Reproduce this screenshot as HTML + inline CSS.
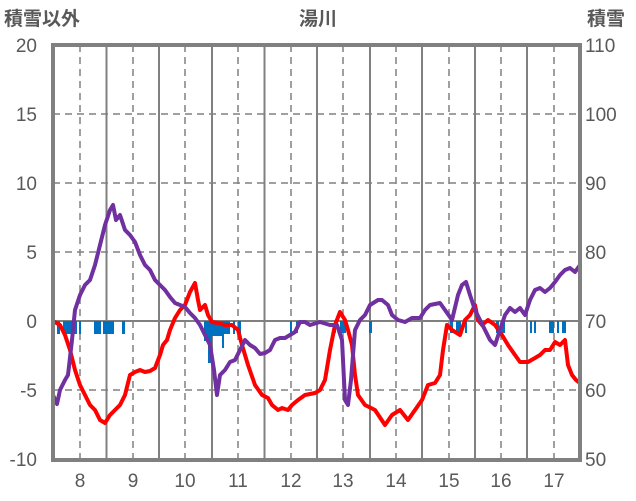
<!DOCTYPE html><html><head><meta charset="utf-8"><style>body{margin:0;background:#fff}svg{display:block}text{font-family:"Liberation Sans","Noto Sans CJK JP",sans-serif;fill:#595959;font-size:19px}</style></head><body>
<svg width="636" height="501" viewBox="0 0 636 501">
<g stroke="#808080" stroke-width="1.5" stroke-dasharray="7,5">
<line x1="53" x2="580" y1="114" y2="114"/><line x1="53" x2="580" y1="183" y2="183"/><line x1="53" x2="580" y1="252" y2="252"/><line x1="53" x2="580" y1="390" y2="390"/>
<line x1="80" x2="80" y1="45" y2="460"/><line x1="133" x2="133" y1="45" y2="460"/><line x1="185" x2="185" y1="45" y2="460"/><line x1="238" x2="238" y1="45" y2="460"/><line x1="291" x2="291" y1="45" y2="460"/><line x1="343" x2="343" y1="45" y2="460"/><line x1="396" x2="396" y1="45" y2="460"/><line x1="449" x2="449" y1="45" y2="460"/><line x1="501" x2="501" y1="45" y2="460"/><line x1="554" x2="554" y1="45" y2="460"/>
</g>
<g stroke="#808080" stroke-width="2">
<line x1="106.5" x2="106.5" y1="45" y2="460"/><line x1="159" x2="159" y1="45" y2="460"/><line x1="212" x2="212" y1="45" y2="460"/><line x1="264.5" x2="264.5" y1="45" y2="460"/><line x1="317" x2="317" y1="45" y2="460"/><line x1="370" x2="370" y1="45" y2="460"/><line x1="422" x2="422" y1="45" y2="460"/><line x1="475" x2="475" y1="45" y2="460"/><line x1="527" x2="527" y1="45" y2="460"/>
<line x1="53" x2="580" y1="321" y2="321"/>
</g>
<g fill="#0070c0">
<rect x="57" y="321" width="3" height="13"/><rect x="63" y="321" width="14" height="13"/><rect x="79" y="321" width="2" height="13"/><rect x="94" y="321" width="7" height="13"/><rect x="103" y="321" width="11" height="13"/><rect x="122" y="321" width="3" height="13"/>
<rect x="204" y="321" width="4" height="20"/><rect x="208" y="321" width="4" height="42"/><rect x="212" y="321" width="10" height="15"/><rect x="222" y="321" width="2" height="27"/><rect x="224" y="321" width="6" height="13"/><rect x="233" y="321" width="2" height="13"/><rect x="238" y="321" width="3" height="13"/>
<rect x="290" y="321" width="2" height="12"/><rect x="296" y="321" width="2" height="12"/><rect x="334" y="321" width="2" height="12"/><rect x="340" y="321" width="6" height="12"/><rect x="369" y="321" width="3" height="12"/>
<rect x="450" y="321" width="3" height="12"/><rect x="456" y="321" width="5" height="12"/><rect x="465" y="321" width="2" height="12"/><rect x="496" y="321" width="3" height="12"/><rect x="502" y="321" width="3" height="12"/><rect x="530" y="321" width="2" height="12"/><rect x="534" y="321" width="2" height="12"/><rect x="549" y="321" width="5" height="12"/><rect x="557" y="321" width="2" height="12"/><rect x="562" y="321" width="4" height="12"/>
</g>
<polyline fill="none" stroke="#ff0000" stroke-width="4" stroke-linejoin="round" points="53,321 60,325 65,335 70,350 75,370 80,385 85,395 90,405 95,410 100,420 105,423 110,415 115,410 120,405 125,395 130,375 135,372 140,370 145,372 150,371 155,368 160,355 163,345 167,340 170,330 175,318 180,310 185,305 190,292 195,283 198,300 200,310 205,305 208,315 212,322 218,323 225,325 232,325 238,330 242,345 248,365 255,385 262,395 268,398 272,405 278,410 282,408 288,410 292,405 298,400 305,395 315,393 320,390 325,380 330,350 335,325 340,312 345,320 348,330 352,345 355,375 358,395 365,405 375,410 385,425 392,415 400,410 408,420 415,410 422,400 428,385 435,383 440,375 443,350 447,325 452,330 460,335 465,320 470,315 475,305 478,320 482,325 488,320 495,325 502,335 508,345 515,355 520,362 528,362 535,358 540,355 545,350 550,350 555,342 560,345 565,340 568,365 572,375 576,380 580,383"/>
<polyline fill="none" stroke="#7030a0" stroke-width="4" stroke-linejoin="round" points="53,395 57,404 60,390 65,380 68,375 72,340 75,310 80,295 85,285 90,280 95,265 100,245 105,225 110,210 113,205 116,220 120,215 125,230 130,235 135,242 140,255 145,265 150,270 155,280 160,285 165,290 170,297 175,303 180,305 185,307 190,313 195,318 200,325 205,335 210,345 214,370 217,395 220,375 225,370 230,362 235,360 240,350 245,340 250,345 255,348 260,354 265,353 270,350 275,340 280,338 285,338 290,335 295,332 300,322 305,322 310,325 320,322 330,325 337,325 342,340 345,400 348,405 351,380 355,330 360,320 365,315 370,305 378,300 382,300 388,305 392,315 398,320 405,322 412,318 420,318 425,310 430,305 440,303 445,310 452,320 458,295 462,285 466,282 470,295 475,310 480,320 485,330 490,340 495,345 500,330 505,315 510,308 515,312 520,308 525,315 530,300 535,290 540,288 545,292 550,288 555,282 560,275 565,270 570,268 575,272 580,265"/>
<rect x="53" y="45" width="527" height="415" fill="none" stroke="#808080" stroke-width="4"/>
<g text-anchor="end"><text x="37" y="52">20</text><text x="37" y="121">15</text><text x="37" y="190">10</text><text x="37" y="259">5</text><text x="37" y="328">0</text><text x="37" y="397">-5</text><text x="37" y="466">-10</text></g>
<g><text x="585" y="52">110</text><text x="585" y="121">100</text><text x="585" y="190">90</text><text x="585" y="259">80</text><text x="585" y="328">70</text><text x="585" y="397">60</text><text x="585" y="466">50</text></g>
<g text-anchor="middle"><text x="80" y="487">8</text><text x="133" y="487">9</text><text x="185" y="487">10</text><text x="238" y="487">11</text><text x="291" y="487">12</text><text x="343" y="487">13</text><text x="396" y="487">14</text><text x="449" y="487">15</text><text x="501" y="487">16</text><text x="554" y="487">17</text></g>
<text x="4" y="25" font-weight="bold">積雪以外</text><text x="318" y="25" text-anchor="middle" font-weight="bold">湯川</text><text x="587" y="25" font-weight="bold">積雪</text>
</svg></body></html>
